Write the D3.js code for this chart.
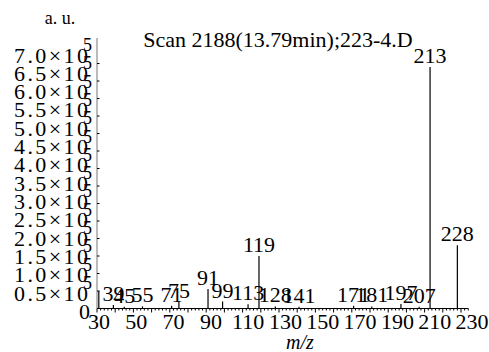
<!DOCTYPE html>
<html>
<head>
<meta charset="utf-8">
<script src="https://cdn.jsdelivr.net/npm/d3@7.9.0/dist/d3.min.js"></script>
<style>
  body { margin: 0; background: #fff; }
  svg { display: block; font-family: "Liberation Serif", "DejaVu Serif", serif; }
</style>
</head>
<body>
<svg id="chart" width="489" height="352"></svg>
<script>
// peaks (m/z, intensity in a.u.)
const mz =        [31,    39,    45,   55,   71,   75,    91,    99,    113,   119,    128,  141,  171,  181,  197,   207,  213,    228];
const intensity = [50000, 10000, 5000, 6000, 8000, 20000, 56000, 20000, 12000, 150000, 6000, 5000, 8000, 6000, 13000, 5000, 690000, 181000];
const labeled =   [false, true,  true, true, true, true,  true,  true,  true,  true,   true, true, true, true, true,  true, true,   true];

const yTicks = [0.5, 1.0, 1.5, 2.0, 2.5, 3.0, 3.5, 4.0, 4.5, 5.0, 5.5, 6.0, 6.5, 7.0];
const xTicks = [30, 50, 70, 90, 110, 130, 150, 170, 190, 210, 230];

const title = 'Scan 2188(13.79min);223-4.D';

const svg = d3.select('#chart');

const x = d3.scaleLinear().domain([30, 230]).range([97, 461]);
const y = d3.scaleLinear().domain([0, 773000]).range([308.5, 38]);
// tick labels sit on a slightly wider grid than the tick marks
const xLab = d3.scaleLinear().domain([30, 230]).range([99, 472]);
const yLab = d3.scaleLinear().domain([0.5, 7.0]).range([293, 55]);

// axes
svg.append('line')
  .attr('x1', x(30)).attr('x2', x(30))
  .attr('y1', y(0)).attr('y2', y(773000))
  .attr('stroke', '#777').attr('stroke-width', 1);

svg.append('line')
  .attr('x1', x(30)).attr('x2', x(234))
  .attr('y1', y(0)).attr('y2', y(0))
  .attr('stroke', '#000').attr('stroke-width', 1);

// x minor / major ticks
const minor = d3.range(30, 235, 2);
svg.append('g').selectAll('line').data(minor).join('line')
  .attr('x1', d => x(d)).attr('x2', d => x(d))
  .attr('y1', y(0)).attr('y2', d => y(0) + (d % 10 === 0 ? 4 : 2))
  .attr('stroke', '#000').attr('stroke-width', 1);

// y ticks
svg.append('g').selectAll('line').data(yTicks).join('line')
  .attr('x1', x(30)).attr('x2', x(30) + 2.5)
  .attr('y1', d => y(d * 1e5)).attr('y2', d => y(d * 1e5))
  .attr('stroke', '#000').attr('stroke-width', 1);

// x tick labels
svg.append('g').selectAll('text').data(xTicks).join('text')
  .attr('x', d => xLab(d)).attr('y', 329)
  .attr('text-anchor', 'middle')
  .attr('font-size', 22)
  .text(d => d);

// y tick labels
const yl = svg.append('g').selectAll('g').data(yTicks).join('g')
  .attr('transform', d => `translate(0,${yLab(d)})`);
yl.append('text')
  .attr('x', 88).attr('y', 7.5)
  .attr('text-anchor', 'end')
  .attr('font-size', 22)
  .attr('textLength', 74)
  .attr('lengthAdjust', 'spacing')
  .text(d => d.toFixed(1) + '\u00d710');
yl.append('text')
  .attr('x', 83).attr('y', -4)
  .attr('font-size', 18)
  .text('5');

svg.append('text')
  .attr('x', 90).attr('y', yLab(0) + 7.5)
  .attr('text-anchor', 'end')
  .attr('font-size', 22)
  .text('0');

// peaks
const peaks = mz.map((m, i) => ({ mz: m, v: intensity[i], lab: labeled[i] }));
svg.append('g').selectAll('line').data(peaks).join('line')
  .attr('x1', d => x(d.mz)).attr('x2', d => x(d.mz))
  .attr('y1', y(0)).attr('y2', d => y(d.v))
  .attr('stroke', '#000').attr('stroke-width', 1.2);

svg.append('g').selectAll('text').data(peaks.filter(d => d.lab)).join('text')
  .attr('x', d => x(d.mz)).attr('y', d => y(d.v) - 4)
  .attr('text-anchor', 'middle')
  .attr('font-size', 22)
  .text(d => d.mz);

// titles
svg.append('text')
  .attr('x', 278).attr('y', 47)
  .attr('text-anchor', 'middle')
  .attr('font-size', 22)
  .text(title);

svg.append('text')
  .attr('x', 60).attr('y', 24)
  .attr('text-anchor', 'middle')
  .attr('font-size', 18)
  .text('a. u.');

svg.append('text')
  .attr('x', 300).attr('y', 349)
  .attr('text-anchor', 'middle')
  .attr('font-size', 20)
  .attr('font-style', 'italic')
  .text('m/z');
</script>
</body>
</html>
